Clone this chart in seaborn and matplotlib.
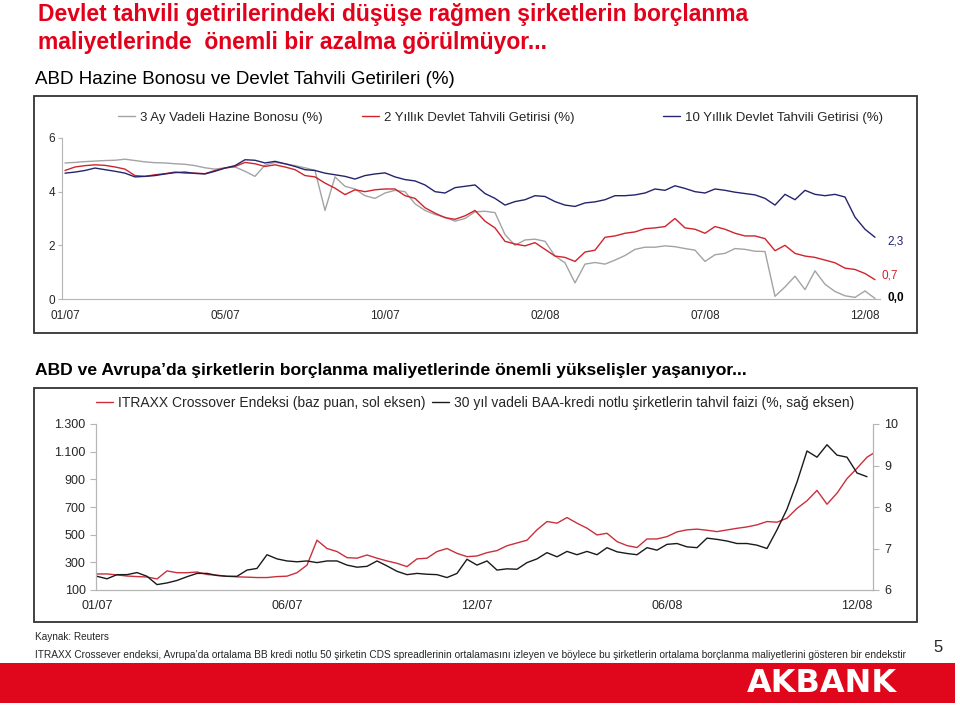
import numpy as np
import matplotlib
matplotlib.use("Agg")
import matplotlib.pyplot as plt
from matplotlib.patches import Rectangle
import seaborn as sns

# --- data ----------------------------------------------------------------
# top chart: one value every ~6 trading days, 01/07 .. 12/08
bono_3ay = [5.07, 5.09, 5.12, 5.14, 5.16, 5.17, 5.21, 5.16, 5.11, 5.08,
            5.07, 5.04, 5.02, 4.97, 4.89, 4.84, 4.89, 4.92, 4.76, 4.57,
            4.99, 5.09, 5.04, 4.97, 4.89, 4.79, 3.30, 4.55, 4.20, 4.10,
            3.85, 3.75, 3.95, 4.05, 4.00, 3.55, 3.30, 3.15, 3.05, 2.90,
            3.00, 3.25, 3.27, 3.22, 2.40, 2.00, 2.20, 2.23, 2.15, 1.60,
            1.35, 0.60, 1.30, 1.36, 1.30, 1.45, 1.62, 1.85, 1.93,
            1.93, 1.98, 1.95, 1.88, 1.82, 1.40, 1.65, 1.70, 1.88, 1.85,
            1.78, 1.77, 0.10, 0.45, 0.85, 0.35, 1.05, 0.55, 0.28, 0.12,
            0.06, 0.30, 0.02]
tahvil_2y = [4.79, 4.92, 4.97, 5.00, 4.98, 4.92, 4.84, 4.60, 4.57, 4.63,
             4.67, 4.73, 4.69, 4.69, 4.67, 4.79, 4.88, 4.94, 5.09, 5.04,
             4.94, 5.00, 4.92, 4.82, 4.60, 4.55, 4.32, 4.13, 3.89, 4.07,
             4.00, 4.07, 4.10, 4.10, 3.85, 3.75, 3.40, 3.20, 3.03, 2.97,
             3.10, 3.30, 2.90, 2.65, 2.15, 2.05, 1.98, 2.10, 1.85, 1.60,
             1.55, 1.40, 1.75, 1.82, 2.30, 2.35, 2.45, 2.50, 2.62,
             2.65, 2.70, 3.00, 2.65, 2.60, 2.45, 2.70, 2.60, 2.45, 2.35,
             2.35, 2.25, 1.80, 2.00, 1.70, 1.60, 1.55, 1.45, 1.35, 1.15,
             1.10, 0.95, 0.72]
tahvil_10y = [4.69, 4.73, 4.79, 4.88, 4.82, 4.76, 4.69, 4.55, 4.57, 4.60,
              4.66, 4.71, 4.73, 4.68, 4.66, 4.76, 4.88, 4.97, 5.19, 5.17,
              5.07, 5.13, 5.04, 4.94, 4.82, 4.79, 4.69, 4.63, 4.57, 4.47,
              4.60, 4.66, 4.70, 4.55, 4.45, 4.40, 4.25, 4.00, 3.95, 4.15,
              4.20, 4.25, 3.93, 3.75, 3.50, 3.63, 3.70, 3.85, 3.82, 3.63,
              3.50, 3.45, 3.58, 3.62, 3.70, 3.85, 3.85, 3.88, 3.95,
              4.10, 4.05, 4.22, 4.12, 4.00, 3.95, 4.10, 4.05, 3.98, 3.93,
              3.88, 3.75, 3.50, 3.90, 3.70, 4.05, 3.90, 3.85, 3.90, 3.80,
              3.05, 2.60, 2.30]
ust_etiketler = ["01/07", "05/07", "10/07", "02/08", "07/08", "12/08"]
ust_tick_idx = [0, 16, 32, 48, 64, 80]

# bottom chart
itraxx = [216, 216, 209, 201, 197, 194, 180, 238, 225, 225,
          230, 212, 207, 199, 195, 193, 190, 190, 197, 200,
          225, 280, 460, 400, 378, 334, 330, 353, 330, 310,
          293, 269, 325, 330, 378, 400, 365, 341, 346,
          370, 385, 420, 440, 460, 535, 595, 583, 624, 583,
          547, 498, 510, 450, 421, 407, 469, 469, 486, 520,
          535, 540, 532, 522, 534, 546, 556, 571, 595, 590,
          619, 690, 745, 820, 720, 800, 905, 980, 1060, 1105]
baa = [6.33, 6.27, 6.37, 6.37, 6.42, 6.33, 6.13, 6.17, 6.23, 6.32,
       6.40, 6.40, 6.35, 6.33, 6.33, 6.48, 6.52, 6.85, 6.75, 6.70,
       6.68, 6.70, 6.66, 6.70, 6.70, 6.60, 6.55, 6.57, 6.70, 6.58,
       6.45, 6.37, 6.40, 6.38, 6.37, 6.30, 6.40, 6.74, 6.60,
       6.70, 6.48, 6.51, 6.50, 6.66, 6.75, 6.90, 6.80, 6.93, 6.85,
       6.93, 6.85, 7.02, 6.92, 6.88, 6.85, 7.02, 6.96, 7.10, 7.12,
       7.04, 7.02, 7.25, 7.22, 7.18, 7.12, 7.12, 7.08, 7.00, 7.45,
       7.95, 8.60, 9.35, 9.20, 9.50, 9.25, 9.20, 8.82, 8.73]
alt_etiketler = ["01/07", "06/07", "12/07", "06/08", "12/08"]
alt_tick_idx = [0, 19, 38, 57, 76]
sol_ticks = [100, 300, 500, 700, 900, 1100, 1300]
sol_etiketler = ["100", "300", "500", "700", "900", "1.100", "1.300"]
sag_ticks = [6, 7, 8, 9, 10]

# --- style ---------------------------------------------------------------
sns.set_style("white")
plt.rcParams["font.family"] = ["Liberation Sans", "DejaVu Sans"]

GRAY = "#a3a3a3"
RED = "#d0232b"
NAVY = "#24246c"
RED2 = "#c9303c"
BLACK = "#1a1a1a"
AXIS = "#b5b5b5"
W, H = 960, 713

fig = plt.figure(figsize=(9.6, 7.13), dpi=100)
fig.patch.set_facecolor("white")


def fx(px):
    return px / W


def fy(py):
    return 1 - py / H


# titles
fig.text(fx(38), fy(15), "Devlet tahvili getirilerindeki düşüşe rağmen şirketlerin borçlanma",
         color="#e2001a", fontsize=16.5, fontweight="bold", va="center")
fig.text(fx(38), fy(42), "maliyetlerinde  önemli bir azalma görülmüyor...",
         color="#e2001a", fontsize=16.5, fontweight="bold", va="center")
fig.text(fx(35), fy(80), "ABD Hazine Bonosu ve Devlet Tahvili Getirileri (%)",
         fontsize=13.5, va="center", color="black")
fig.text(fx(35), fy(370), "ABD ve Avrupa’da şirketlerin borçlanma maliyetlerinde önemli yükselişler yaşanıyor...",
         fontsize=12.6, fontweight="bold", va="center", color="black")

# frames
for top, bot in [(96, 333), (388, 622)]:
    fig.add_artist(Rectangle((fx(34), fy(bot)), fx(917) - fx(34), fy(top) - fy(bot),
                             transform=fig.transFigure, fill=False, edgecolor="#333333", linewidth=1.3))

# --- top chart -----------------------------------------------------------
ax1 = fig.add_axes([fx(62), fy(299), (880 - 62) / W, (299 - 138) / H])
idx = np.arange(len(bono_3ay))
sns.lineplot(x=idx, y=bono_3ay, ax=ax1, color=GRAY, linewidth=1.0, label="3 Ay Vadeli Hazine Bonosu (%)")
sns.lineplot(x=idx, y=tahvil_2y, ax=ax1, color=RED, linewidth=1.0, label="2 Yıllık Devlet Tahvili Getirisi (%)")
sns.lineplot(x=idx, y=tahvil_10y, ax=ax1, color=NAVY, linewidth=1.0, label="10 Yıllık Devlet Tahvili Getirisi (%)")
ax1.set_xlim(-0.3, 81.5)
ax1.set_ylim(0, 6)
ax1.set_xticks(ust_tick_idx)
ax1.set_xticklabels(ust_etiketler)
ax1.set_yticks([0, 2, 4, 6])
ax1.set_yticklabels(["0", "2", "4", "6"])
ax1.tick_params(axis="x", length=0, pad=8, labelsize=8.5)
ax1.tick_params(axis="y", length=3, width=0.8, color=AXIS, pad=2, labelsize=8.5, left=True)
for s in ["top", "right"]:
    ax1.spines[s].set_visible(False)
for s in ["left", "bottom"]:
    ax1.spines[s].set_color(AXIS)
    ax1.spines[s].set_linewidth(0.8)
ax1.set_xlabel("")
ax1.set_ylabel("")

# end value labels
ax1.annotate("2,3", (idx[-1], tahvil_10y[-1]), xytext=(9, -3), textcoords="offset points",
             color=NAVY, fontsize=8.5, va="center")
ax1.annotate("0,7", (idx[-1], tahvil_2y[-1]), xytext=(5, 3), textcoords="offset points",
             color=RED, fontsize=8.5, va="center")
ax1.annotate("0,0", (idx[-1], bono_3ay[-1]), xytext=(9, 0), textcoords="offset points",
             color="black", fontsize=8.5, fontweight="bold", va="center")

# one legend per entry so each sits where it does in the original
h1, l1 = ax1.get_legend_handles_labels()
legs = []
for h, l, px in zip(h1, l1, [118, 362, 663]):
    legs.append(ax1.legend([h], [l], loc="center left", bbox_to_anchor=(fx(px), fy(118)),
                           bbox_transform=fig.transFigure, frameon=False, fontsize=9.5,
                           borderpad=0, borderaxespad=0, handlelength=1.3, handletextpad=0.35))
for leg in legs[:-1]:
    ax1.add_artist(leg)

# --- bottom chart --------------------------------------------------------
ax2 = fig.add_axes([fx(96), fy(590), (873 - 96) / W, (590 - 424) / H])
ax3 = ax2.twinx()
sns.lineplot(x=np.arange(len(itraxx)), y=itraxx, ax=ax2, color=RED2, linewidth=1.0,
             label="ITRAXX Crossover Endeksi (baz puan, sol eksen)")
sns.lineplot(x=np.arange(len(baa)), y=baa, ax=ax3, color=BLACK, linewidth=1.0,
             label="30 yıl vadeli BAA-kredi notlu şirketlerin tahvil faizi (%, sağ eksen)")
ax2.set_xlim(-0.1, 77.6)
ax2.set_ylim(100, 1300)
ax3.set_ylim(6, 10)
ax2.set_xticks(alt_tick_idx)
ax2.set_xticklabels(alt_etiketler)
ax2.set_yticks(sol_ticks)
ax2.set_yticklabels(sol_etiketler)
ax3.set_yticks(sag_ticks)
ax3.set_yticklabels([str(t) for t in sag_ticks])
ax2.tick_params(axis="x", length=0, pad=7, labelsize=9)
ax2.tick_params(axis="y", length=4.5, width=0.8, color=AXIS, pad=3, labelsize=9, left=True)
ax3.tick_params(axis="y", length=4, width=0.8, color=AXIS, pad=4, labelsize=9, right=True)
for a in (ax2, ax3):
    a.spines["top"].set_visible(False)
    for s in ["left", "right", "bottom"]:
        a.spines[s].set_color(AXIS)
        a.spines[s].set_linewidth(0.8)
    a.set_xlabel("")
    a.set_ylabel("")

h2, l2 = ax2.get_legend_handles_labels()
h3, l3 = ax3.get_legend_handles_labels()
if ax2.get_legend() is not None:
    ax2.get_legend().remove()
leg_a = ax3.legend(h2, l2, loc="center left", bbox_to_anchor=(fx(96), fy(403)),
                   bbox_transform=fig.transFigure, frameon=False, fontsize=10, borderpad=0,
                   borderaxespad=0, handlelength=1.25, handletextpad=0.35)
ax3.add_artist(leg_a)
ax3.legend(h3, l3, loc="center left", bbox_to_anchor=(fx(432), fy(403)),
           bbox_transform=fig.transFigure, frameon=False, fontsize=10, borderpad=0,
           borderaxespad=0, handlelength=1.25, handletextpad=0.35)

# --- footer --------------------------------------------------------------
fig.text(fx(35), fy(637), "Kaynak: Reuters", fontsize=7.2, va="center")
fig.text(fx(35), fy(655),
         "ITRAXX Crossever endeksi, Avrupa’da ortalama BB kredi notlu 50 şirketin CDS spreadlerinin "
         "ortalamasını izleyen ve böylece bu şirketlerin ortalama borçlanma maliyetlerini gösteren bir endekstir",
         fontsize=7.25, va="center")
fig.text(fx(938), fy(648), "5", fontsize=12, va="center", ha="center")
fig.add_artist(Rectangle((0, fy(703)), fx(955), fy(663) - fy(703), transform=fig.transFigure,
                         facecolor="#e0061c", edgecolor="none"))
fig.text(fx(822), fy(684), "AKBANK", color="white", fontsize=23, fontweight="bold",
         family=["DejaVu Sans"], va="center", ha="center")

fig.savefig("out.png", dpi=100)
